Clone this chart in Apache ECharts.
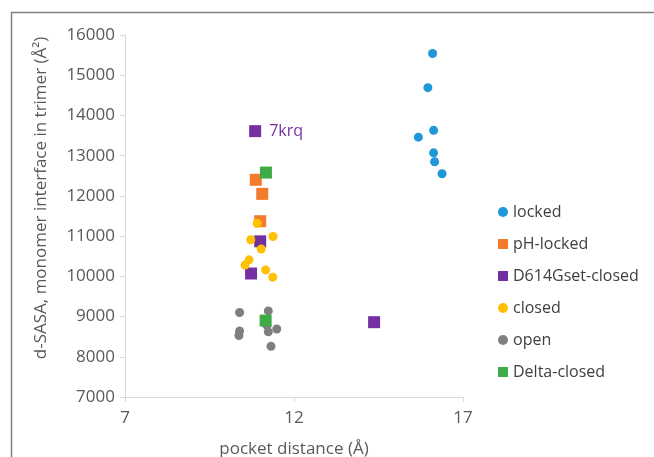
<!DOCTYPE html>
<html><head><meta charset="utf-8">
<script src="https://cdn.jsdelivr.net/npm/echarts@6/dist/echarts.min.js"></script>
<style>html,body{margin:0;padding:0;background:#fff}#c{width:654px;height:457px}</style>
</head><body><div id="c"></div>
<script>
const xTicks = [7, 12, 17];
const yTicks = [7000, 8000, 9000, 10000, 11000, 12000, 13000, 14000, 15000, 16000];
const lockedX = [16.10, 15.96, 16.13, 15.68, 16.13, 16.16, 16.38];
const lockedY = [15540, 14690, 13630, 13460, 13070, 12850, 12550];
const phLockedX = [10.87, 11.06, 11.00];
const phLockedY = [12400, 12050, 11370];
const d614X = [10.85, 11.00, 10.73, 14.37];
const d614Y = [13610, 10870, 10070, 8860];
const d614Labels = ['7krq', '', '', ''];
const closedX = [10.91, 10.72, 11.38, 11.03, 10.67, 10.55, 11.16, 11.37];
const closedY = [11320, 10910, 10990, 10680, 10410, 10280, 10160, 9980];
const openX = [10.39, 11.24, 10.39, 10.37, 11.49, 11.24, 11.32, 11.20];
const openY = [9100, 9140, 8640, 8530, 8690, 8620, 8260, 8780];
const deltaX = [11.17, 11.16];
const deltaY = [12580, 8900];

function pts(xs, ys) { return xs.map((x, i) => [x, ys[i]]); }

const chart = echarts.init(document.getElementById('c'));
const font = '"Open Sans", "Liberation Sans", sans-serif';
const circ = 9, sq = 12;
chart.setOption({
  animation: false,
  textStyle: { fontFamily: font },
  graphic: [{
    type: 'rect', left: 9, top: 10, shape: { width: 700, height: 500 },
    style: { fill: 'none', stroke: '#7f7f7f', lineWidth: 1.5 }, silent: true
  }],
  grid: { left: 125, right: 191, top: 35, bottom: 60, containLabel: false, outerBoundsMode: 'none' },
  xAxis: {
    type: 'value', min: xTicks[0], max: xTicks[xTicks.length - 1], interval: xTicks[1] - xTicks[0],
    name: 'pocket distance (Å)', nameLocation: 'middle', nameGap: 44,
    nameTextStyle: { fontSize: 17, color: '#595959', fontFamily: font },
    axisLine: { show: true, lineStyle: { color: '#d9d9d9', width: 1 } },
    axisTick: { show: true, length: 5, lineStyle: { color: '#d9d9d9' } },
    axisLabel: { fontSize: 17, color: '#595959', margin: 13, fontFamily: font },
    splitLine: { show: false }
  },
  yAxis: {
    type: 'value', min: yTicks[0], max: yTicks[yTicks.length - 1], interval: yTicks[1] - yTicks[0],
    name: 'd-SASA, monomer interface in trimer (Å²)', nameLocation: 'middle', nameGap: 75,
    nameTextStyle: { fontSize: 17, color: '#595959', fontFamily: font, padding: [0, 0, 0, 36] },
    axisLine: { show: true, lineStyle: { color: '#d9d9d9', width: 1 } },
    axisTick: { show: true, length: 5, lineStyle: { color: '#d9d9d9' } },
    axisLabel: { fontSize: 17, color: '#595959', margin: 10, fontFamily: font, formatter: v => String(v) },
    splitLine: { show: false }
  },
  legend: {
    orient: 'vertical', left: 498, top: 204, itemGap: 16, padding: 0,
    itemWidth: 10, itemHeight: 10,
    textStyle: { fontSize: 16, lineHeight: 16, color: '#404040', fontFamily: font },
    data: [
      { name: 'locked', icon: 'circle' },
      { name: 'pH-locked', icon: 'rect' },
      { name: 'D614Gset-closed', icon: 'rect' },
      { name: 'closed', icon: 'circle' },
      { name: 'open', icon: 'circle' },
      { name: 'Delta-closed', icon: 'rect' }
    ]
  },
  series: [
    { name: 'locked', type: 'scatter', symbol: 'circle', symbolSize: circ, itemStyle: { color: '#1f97d8', opacity: 1 }, data: pts(lockedX, lockedY), z: 2 },
    { name: 'pH-locked', type: 'scatter', symbol: 'rect', symbolSize: sq, itemStyle: { color: '#f47b2c', opacity: 1 }, data: pts(phLockedX, phLockedY), z: 3 },
    { name: 'D614Gset-closed', type: 'scatter', symbol: 'rect', symbolSize: sq, itemStyle: { color: '#7430a0', opacity: 1 },
      data: d614X.map((x, i) => ({ value: [x, d614Y[i]], label: { show: d614Labels[i] !== '', formatter: d614Labels[i], position: 'right', distance: 8, color: '#7430a0', fontSize: 16, fontFamily: font } })), z: 4 },
    { name: 'closed', type: 'scatter', symbol: 'circle', symbolSize: circ, itemStyle: { color: '#ffc000', opacity: 1 }, data: pts(closedX, closedY), z: 5 },
    { name: 'open', type: 'scatter', symbol: 'circle', symbolSize: circ, itemStyle: { color: '#7f7f7f', opacity: 1 }, data: pts(openX, openY), z: 6 },
    { name: 'Delta-closed', type: 'scatter', symbol: 'rect', symbolSize: sq, itemStyle: { color: '#3fab47', opacity: 1 }, data: pts(deltaX, deltaY), z: 7 }
  ]
});
</script></body></html>
